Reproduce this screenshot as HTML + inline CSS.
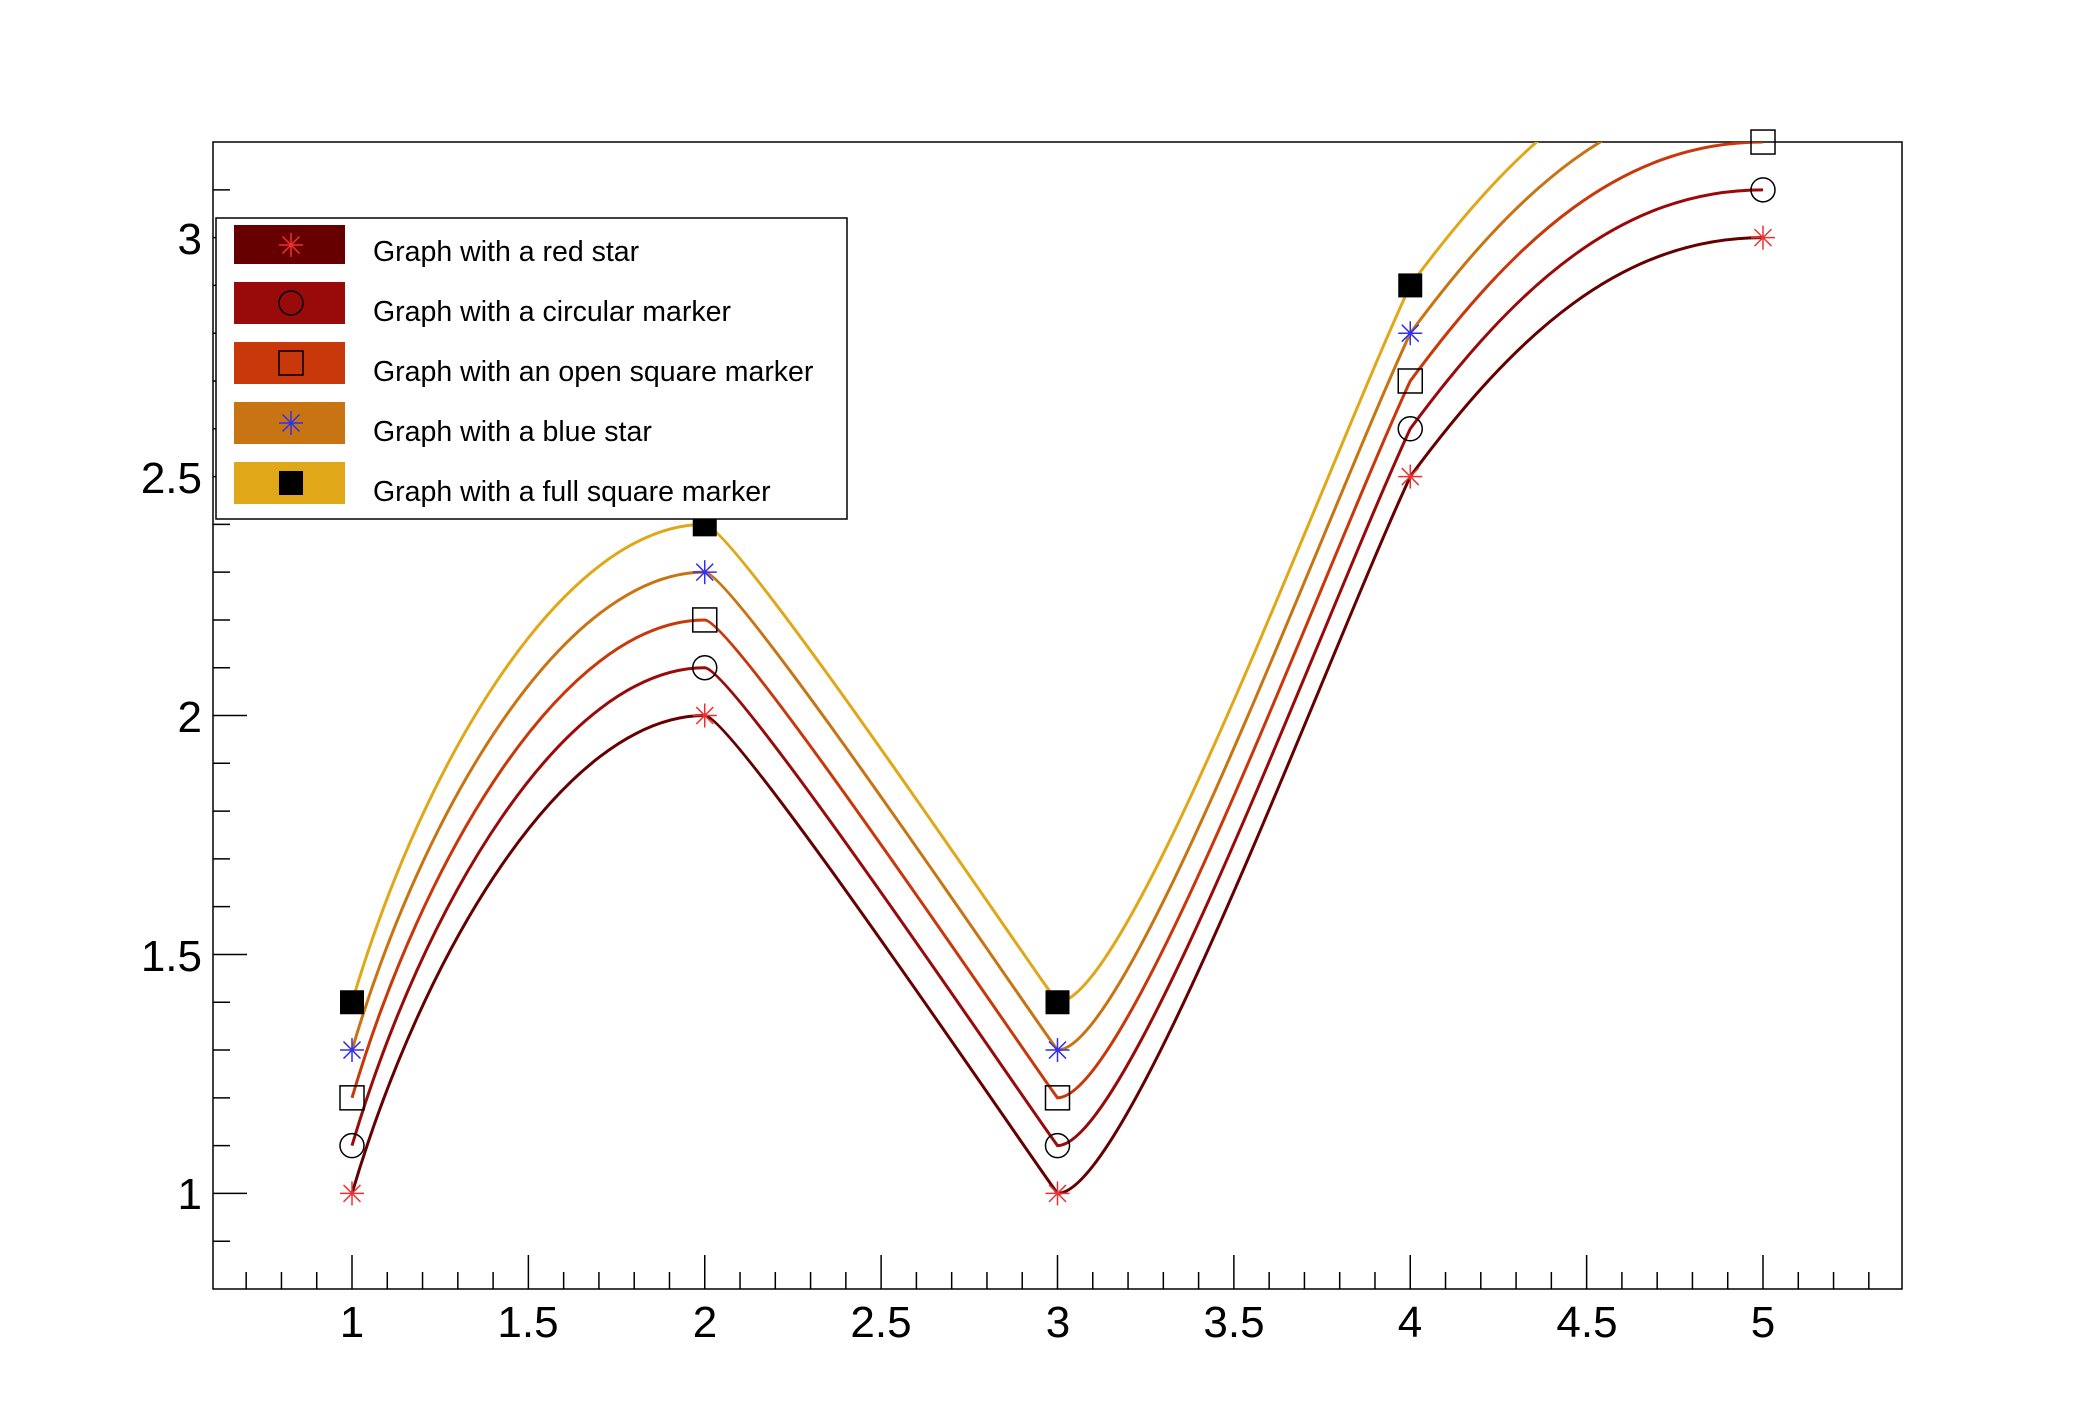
<!DOCTYPE html>
<html><head><meta charset="utf-8"><style>
body{margin:0;background:#fff}
svg text{font-family:"Liberation Sans",Arial,sans-serif}
</style></head><body>
<svg id="s" width="2088" height="1416" xmlns="http://www.w3.org/2000/svg">
<defs><clipPath id="c"><rect x="213" y="142" width="1689" height="1147"/></clipPath></defs>
<rect x="213" y="142" width="1689" height="1147" fill="none" stroke="#000" stroke-width="1.5"/>
<g id="ticks" stroke="#000" stroke-width="1.5"></g>
<g id="curves" clip-path="url(#c)" fill="none" stroke-width="3"></g>
<g id="marks"></g>
<g font-size="44" fill="#000" text-anchor="middle">
<text x="352" y="1337">1</text><text x="528" y="1337">1.5</text><text x="705" y="1337">2</text><text x="881" y="1337">2.5</text><text x="1058" y="1337">3</text><text x="1234" y="1337">3.5</text><text x="1410" y="1337">4</text><text x="1587" y="1337">4.5</text><text x="1763" y="1337">5</text>
</g>
<g font-size="44" fill="#000" text-anchor="end">
<text x="202" y="1209">1</text><text x="202" y="971">1.5</text><text x="202" y="732">2</text><text x="202" y="493">2.5</text><text x="202" y="254">3</text>
</g>
<rect x="216" y="218" width="631" height="301" fill="#fff" stroke="#000" stroke-width="1.5"/>
<rect x="234" y="225" width="111" height="39" fill="#660000"/>
<rect x="234" y="282" width="111" height="42" fill="#990a0a"/>
<rect x="234" y="342" width="111" height="42" fill="#c8380a"/>
<rect x="234" y="402" width="111" height="42" fill="#c87412"/>
<rect x="234" y="462" width="111" height="42" fill="#e0a818"/>
<g id="lm"></g>
<g font-size="28.5" fill="#000">
<text x="373" y="261">Graph with a red star</text>
<text x="373" y="321">Graph with a circular marker</text>
<text x="373" y="381">Graph with an open square marker</text>
<text x="373" y="441">Graph with a blue star</text>
<text x="373" y="501">Graph with a full square marker</text>
</g>
</svg>
<script>
var NS="http://www.w3.org/2000/svg";
function X(x){return 352+(x-1)*352.75}
function Y(y){return 1289-(y-0.8)*477.9}
function el(p,t,a){var e=document.createElementNS(NS,t);for(var k in a)e.setAttribute(k,a[k]);p.appendChild(e);return e}
var tk=document.getElementById('ticks');
for(var i=0;i<=48;i++){var x=0.6+i*0.1;if(x>5.401)break;var maj=Math.abs(x*2-Math.round(x*2))<1e-6;var px=X(x);
 if(px<214||px>1901)continue;
 el(tk,'line',{x1:px,y1:1289,x2:px,y2:1289-(maj?34:17)});}
for(var i=0;i<=24;i++){var y=0.8+i*0.1;var maj=Math.abs(y*2-Math.round(y*2))<1e-6;var py=Y(y);
 if(py<143||py>1288)continue;
 el(tk,'line',{x1:213,y1:py,x2:213+(maj?34:17),y2:py});}
var cols=['#660000','#990a0a','#c8380a','#c87412','#e0a818'];
var segs=[[[1,1],[1.2,1.5],[1.6,2.0],[2,2]],[[2,2],[2.08,2.0],[2.9,1.1],[3,1]],[[3,1],[3.2,1.0],[3.75,2.1],[4,2.5]],[[4,2.5],[4.3,2.8],[4.6,3.0],[5,3]]];
var cg=document.getElementById('curves');
for(var s=0;s<5;s++){var o=s*0.1,d='';
 segs.forEach(function(g,j){var p=g.map(function(q){return X(q[0])+','+Y(q[1]+o)});
  if(j==0)d+='M'+p[0];d+=' C'+p[1]+' '+p[2]+' '+p[3];});
 el(cg,'path',{d:d,stroke:cols[s]});}
var pts=[[1,1],[2,2],[3,1],[4,2.5],[5,3]];
var mg=document.getElementById('marks');
function star(g,cx,cy,r,c){for(var a=0;a<4;a++){var t=a*Math.PI/4;el(g,'line',{x1:cx-r*Math.cos(t),y1:cy-r*Math.sin(t),x2:cx+r*Math.cos(t),y2:cy+r*Math.sin(t),stroke:c,'stroke-width':1.5})}}
function mark(g,s,cx,cy){
 if(s==0)star(g,cx,cy,12,'#f03030');
 if(s==1)el(g,'circle',{cx:cx,cy:cy,r:12,fill:'none',stroke:'#000','stroke-width':1.5});
 if(s==2)el(g,'rect',{x:cx-12,y:cy-12,width:24,height:24,fill:'none',stroke:'#000','stroke-width':1.5});
 if(s==3)star(g,cx,cy,12,'#3030f0');
 if(s==4)el(g,'rect',{x:cx-12,y:cy-12,width:24,height:24,fill:'#000'});}
for(var s=0;s<5;s++)pts.forEach(function(p){var v=p[1]+s*0.1;if(v>3.205)return;mark(mg,s,X(p[0]),Y(v))});
var lm=document.getElementById('lm');var ly=[245,303,363,423,483];
for(var s=0;s<5;s++)mark(lm,s,291,ly[s]);
</script>
</body></html>
